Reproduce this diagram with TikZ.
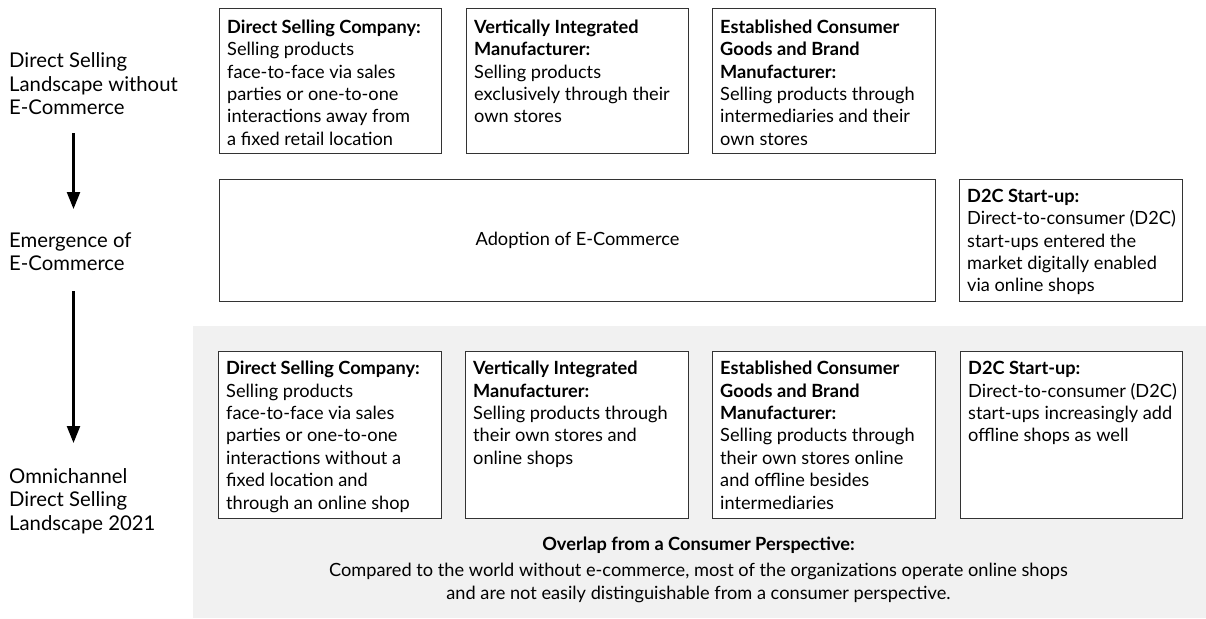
\documentclass[tikz,border=0pt]{standalone}
\usepackage{fontspec}
\setmainfont{Lato}
\usetikzlibrary{arrows.meta}
\definecolor{bggray}{HTML}{F1F1F1}
\definecolor{edge}{HTML}{333333}
\newcommand\firstln{\rule{0pt}{16pt}}
\tikzset{
  card/.style={draw=edge, line width=1pt, fill=white, anchor=north west, inner sep=0pt},
  cardtext/.style={anchor=north west, inner sep=0pt, align=left, font=\fontsize{18.2}{22.4}\selectfont},
  lefttext/.style={anchor=north west, inner sep=0pt, align=left, font=\fontsize{20.3}{23.5}\selectfont},
  flow/.style={line width=2.4pt, -{Triangle[width=13pt,length=17pt]}},
}
\begin{document}
\begin{tikzpicture}[x=1pt,y=-1pt]
\useasboundingbox (0,0) rectangle (1206,618);
% gray panel
\node[anchor=north west, fill=bggray, inner sep=0pt, minimum width=1013pt, minimum height=292pt] (panel) at (193,326) {};

% left labels
\node[lefttext] (l1) at (9,51.5) {\firstln Direct Selling\\Landscape without\\E-Commerce};
\node[lefttext] (l2) at (9,231) {\firstln Emergence of\\E-Commerce};
\node[lefttext] (l3) at (9,467) {\firstln Omnichannel\\Direct Selling\\Landscape 2021};
\coordinate (a1s) at (73.5,133);
\coordinate (a1e) at (73.5,209);
\coordinate (a2s) at (73.5,291);
\coordinate (a2e) at (73.5,443);
\draw[flow] (a1s) -- (a1e);
\draw[flow] (a2s) -- (a2e);

% top row
\node[card, minimum width=222pt, minimum height=145pt] (t1) at (219,8) {};
\node[card, minimum width=222pt, minimum height=145pt] (t2) at (466,8) {};
\node[card, minimum width=223pt, minimum height=145pt] (t3) at (712,8) {};
\node[cardtext] (t1t) at ([shift={(8,9)}]t1.north west) {\firstln\textbf{Direct Selling Company:}\\Selling products\\face-to-face via sales\\parties or one-to-one\\interactions away from\\a fixed retail location};
\node[cardtext] (t2t) at ([shift={(8,9)}]t2.north west) {\firstln\textbf{Vertically Integrated}\\\textbf{Manufacturer:}\\Selling products\\exclusively through their\\own stores};
\node[cardtext] (t3t) at ([shift={(8,9)}]t3.north west) {\firstln\textbf{Established Consumer}\\\textbf{Goods and Brand}\\\textbf{Manufacturer:}\\Selling products through\\intermediaries and their\\own stores};

% middle row
\node[card, minimum width=716pt, minimum height=122pt] (m1) at (219,179) {};
\node[font=\fontsize{18.2}{22.4}\selectfont, inner sep=0pt] (m1t) at (m1.center) {Adoption of E-Commerce};
\node[card, minimum width=223pt, minimum height=122pt] (m2) at (959,179) {};
\node[cardtext] (m2t) at ([shift={(8,7)}]m2.north west) {\firstln\textbf{D2C Start-up:}\\Direct-to-consumer (D2C)\\start-ups entered the\\market digitally enabled\\via online shops};

% bottom row
\node[card, minimum width=223pt, minimum height=167pt] (b1) at (218,351) {};
\node[card, minimum width=223pt, minimum height=167pt] (b2) at (465,351) {};
\node[card, minimum width=223pt, minimum height=167pt] (b3) at (712,351) {};
\node[card, minimum width=222pt, minimum height=167pt] (b4) at (960,351) {};
\node[cardtext] (b1t) at ([shift={(8,7.5)}]b1.north west) {\firstln\textbf{Direct Selling Company:}\\Selling products\\face-to-face via sales\\parties or one-to-one\\interactions without a\\fixed location and\\through an online shop};
\node[cardtext] (b2t) at ([shift={(8,7.5)}]b2.north west) {\firstln\textbf{Vertically Integrated}\\\textbf{Manufacturer:}\\Selling products through\\their own stores and\\online shops};
\node[cardtext] (b3t) at ([shift={(8,7.5)}]b3.north west) {\firstln\textbf{Established Consumer}\\\textbf{Goods and Brand}\\\textbf{Manufacturer:}\\Selling products through\\their own stores online\\and offline besides\\intermediaries};
\node[cardtext] (b4t) at ([shift={(8,7.5)}]b4.north west) {\firstln\textbf{D2C Start-up:}\\Direct-to-consumer (D2C)\\start-ups increasingly add\\offline shops as well};

% overlap text
\node[anchor=north, inner sep=0pt, align=center, font=\fontsize{18.2}{22.4}\selectfont] (ov) at (698.5,534.5) {\firstln\textbf{Overlap from a Consumer Perspective:}\\[3.5pt]Compared to the world without e-commerce, most of the organizations operate online shops\\and are not easily distinguishable from a consumer perspective.};
\end{tikzpicture}
\end{document}
